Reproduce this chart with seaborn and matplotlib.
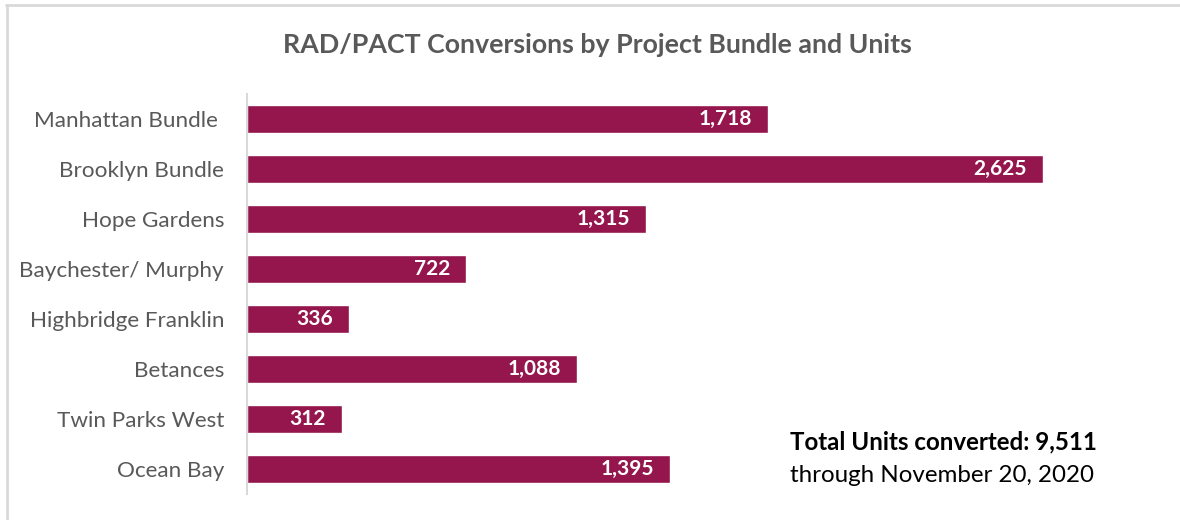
import matplotlib
matplotlib.use("Agg")
import matplotlib.pyplot as plt
from matplotlib.lines import Line2D
import seaborn as sns
import pandas as pd

projects = ["Manhattan Bundle ", "Brooklyn Bundle", "Hope Gardens", "Baychester/ Murphy",
            "Highbridge Franklin", "Betances", "Twin Parks West", "Ocean Bay"]
units = [1718, 2625, 1315, 722, 336, 1088, 312, 1395]
total_units = 9511
through_date = "November 20, 2020"
title = "RAD/PACT Conversions by Project Bundle and Units"

BAR = "#94164D"
GREY = "#595959"

sns.set_theme(style="white")
plt.rcParams["font.family"] = ["Lato", "DejaVu Sans"]

df = pd.DataFrame({"project": projects, "units": units})

fig = plt.figure(figsize=(11.8, 5.2), dpi=100)
ax = fig.add_axes([247 / 1180, 1 - 494 / 520, (1157 - 247) / 1180, 400 / 520])

sns.barplot(data=df, x="units", y="project", color=BAR, width=0.56,
            saturation=1, ax=ax, orient="h")

ax.set_xlim(0, 3000)
ax.set_ylim(len(projects) - 0.5, -0.5)
ax.set_xlabel("")
ax.set_ylabel("")
ax.set_xticks([])
ax.tick_params(axis="y", length=0, pad=16.5, labelsize=16.2, labelcolor=GREY)
for side in ["top", "right", "bottom"]:
    ax.spines[side].set_visible(False)
ax.spines["left"].set_color("#D9D9D9")
ax.spines["left"].set_linewidth(1.5)

for i, v in enumerate(units):
    ax.text(v - 53, i, f"{v:,}", ha="right", va="center", color="white",
            fontsize=15, fontweight="bold")

fig.text(597 / 1180, 1 - 45 / 520, title, ha="center", va="center",
         fontsize=19.3, fontweight="bold", color=GREY)

fig.text(790 / 1180, 1 - 442 / 520, f"Total Units converted: {total_units:,}",
         ha="left", va="center", fontsize=17.4, fontweight="bold", color="black")
fig.text(790 / 1180, 1 - 476 / 520, f"through {through_date}",
         ha="left", va="center", fontsize=17.4, color="black")

# thin frame along the top and left edges
fig.add_artist(Line2D([6 / 1180, 1], [1 - 5 / 520, 1 - 5 / 520], color="#D9D9D9",
                      lw=2, transform=fig.transFigure))
fig.add_artist(Line2D([7 / 1180, 7 / 1180], [0, 1 - 5 / 520], color="#D9D9D9",
                      lw=2, transform=fig.transFigure))

fig.savefig("out.png", dpi=100, facecolor="white")
